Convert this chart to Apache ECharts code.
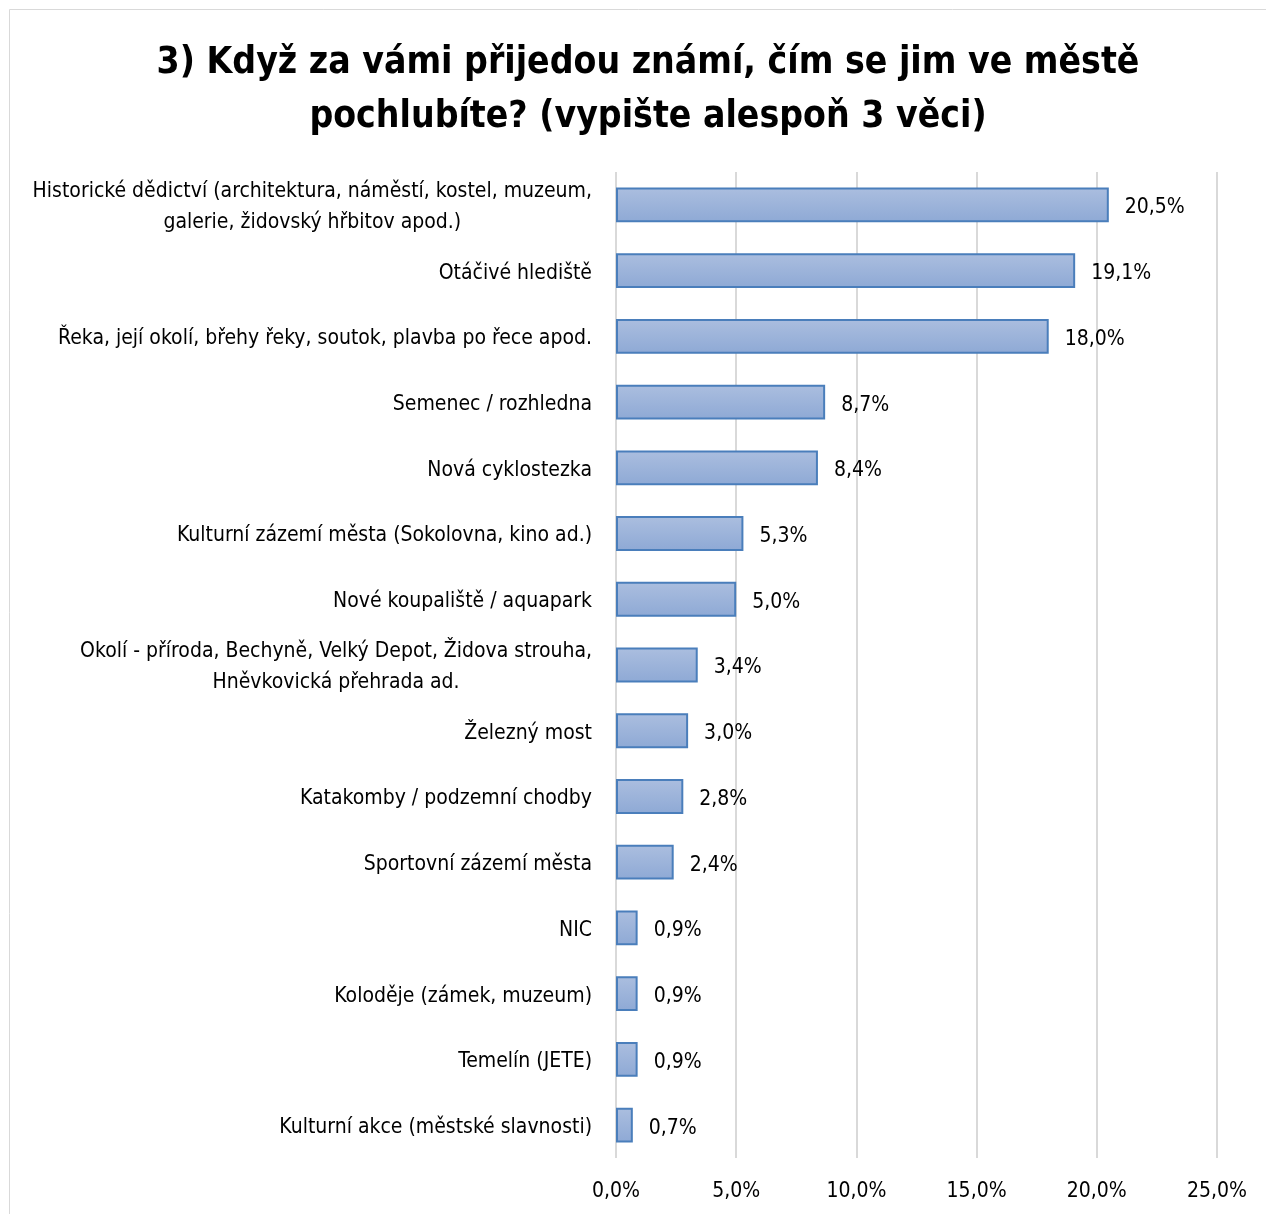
<!DOCTYPE html>
<html>
<head>
<meta charset="utf-8">
<script src="https://cdn.jsdelivr.net/npm/echarts@6/dist/echarts.min.js"></script>
<style>
  html, body { margin: 0; padding: 0; background: #fff; }
  #chart { width: 1266px; height: 1214px; }
</style>
</head>
<body>
<div id="chart"></div>
<script>
const FONT = '"DejaVu Sans Condensed", "Liberation Sans Narrow", "Liberation Sans", sans-serif'

const titleText = '3) Když za vámi přijedou známí, čím se jim ve městě\npochlubíte? (vypište alespoň 3 věci)'

const categories = [
  'Historické dědictví (architektura, náměstí, kostel, muzeum,\ngalerie, židovský hřbitov apod.)',
  'Otáčivé hlediště',
  'Řeka, její okolí, břehy řeky, soutok, plavba po řece apod.',
  'Semenec / rozhledna',
  'Nová cyklostezka',
  'Kulturní zázemí města (Sokolovna, kino ad.)',
  'Nové koupaliště / aquapark',
  'Okolí - příroda, Bechyně, Velký Depot, Židova strouha,\nHněvkovická přehrada ad.',
  'Železný most',
  'Katakomby / podzemní chodby',
  'Sportovní zázemí města',
  'NIC',
  'Koloděje (zámek, muzeum)',
  'Temelín (JETE)',
  'Kulturní akce (městské slavnosti)'
]

// podíl odpovědí v %
const shares = [20.5, 19.1, 18.0, 8.7, 8.4, 5.3, 5.0, 3.4, 3.0, 2.8, 2.4, 0.9, 0.9, 0.9, 0.7]

const axisMin = 0
const axisMax = 25
const axisStep = 5

function pct(v) {
  return v.toFixed(1).replace('.', ',') + '%'
}

const chart = echarts.init(document.getElementById('chart'))

chart.setOption({
  animation: false,
  backgroundColor: '#fff',
  graphic: [{
    type: 'rect',
    silent: true,
    shape: { x: 9.5, y: 9.5, width: 1400, height: 1400 },
    style: { fill: 'none', stroke: '#d9d9d9', lineWidth: 1 }
  }],
  title: {
    text: titleText,
    left: 643,
    top: 31,
    textAlign: 'center',
    textStyle: {
      fontFamily: FONT,
      fontSize: 37,
      fontWeight: 'bold',
      color: '#000',
      lineHeight: 54
    }
  },
  grid: {
    left: 616,
    right: 49,
    top: 172,
    bottom: 56,
    containLabel: false,
    outerBoundsMode: 'none'
  },
  xAxis: {
    type: 'value',
    min: axisMin,
    max: axisMax,
    interval: axisStep,
    axisLine: { show: false },
    axisTick: { show: false },
    axisLabel: {
      margin: 23,
      color: '#000',
      fontFamily: FONT,
      fontSize: 21,
      formatter: pct
    },
    splitLine: { lineStyle: { color: '#d9d9d9', width: 2 } }
  },
  yAxis: {
    type: 'category',
    inverse: true,
    data: categories,
    axisLine: { show: false },
    axisTick: { show: false },
    axisLabel: {
      margin: 24,
      align: 'right',
      padding: [5, 0, 0, 0],
      formatter: v => v.split('\n').map(l => '{c|' + l + '}').join('\n'),
      rich: {
        c: {
          align: 'center',
          color: '#000',
          fontFamily: FONT,
          fontSize: 21,
          lineHeight: 31
        }
      }
    }
  },
  series: [{
    type: 'bar',
    data: shares,
    barWidth: '53%',
    itemStyle: {
      color: new echarts.graphic.LinearGradient(0, 0, 0, 1, [
        { offset: 0, color: '#abbedf' },
        { offset: 1, color: '#8ea9d5' }
      ]),
      borderColor: '#4a7ebb',
      borderWidth: 2
    },
    label: {
      show: true,
      position: 'right',
      distance: 16,
      offset: [0, 3],
      color: '#000',
      fontFamily: FONT,
      fontSize: 21,
      formatter: p => pct(p.value)
    }
  }]
})
</script>
</body>
</html>
